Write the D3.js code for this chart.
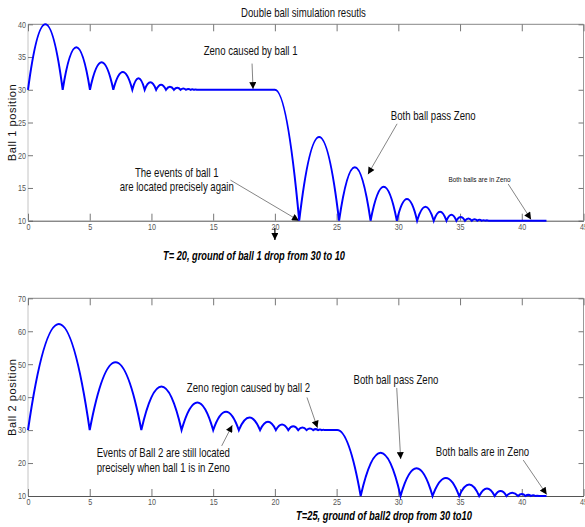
<!DOCTYPE html>
<html>
<head>
<meta charset="utf-8">
<script src="https://cdn.jsdelivr.net/npm/d3@7"></script>
<style>
  body { margin: 0; background: #fff; }
  svg { display: block; }
  text { font-family: "Liberation Sans", Arial, sans-serif; }
  .tick text { font-size: 9px; fill: #555; }
  .note { fill: #111; }
</style>
</head>
<body>
<div id="chart"></div>
<script>
const W = 585, H = 527;
const NARROW = 0.8; // squeeze Arial into an Arial-Narrow look

// ---------------- data
const xTicks = [0, 5, 10, 15, 20, 25, 30, 35, 40, 45];
const y1Ticks = [10, 15, 20, 25, 30, 35, 40];
const y2Ticks = [10, 20, 30, 40, 50, 60, 70];

// ball 1 : ground at 30 until t=20, then ground at 10
const b1Impacts = [0, 2.81, 5.02, 6.91, 8.45, 9.45, 10.38, 11.18, 11.82, 12.36, 12.8, 13.17, 13.45, 13.68];
const b1Apex    = [40, 36.5, 34.2, 32.7, 31.75, 31.14, 30.78, 30.46, 30.3, 30.19, 30.12, 30.07, 30.04];
const b1Drop    = [20, 21.97];           // ground drop start, first hit on new ground
const b1Impacts2 = [21.97, 25.2, 27.75, 29.88, 31.52, 32.87, 33.9, 34.7, 35.4, 35.95, 36.4, 36.75, 37.05, 37.3];
const b1Apex2    = [22.8, 18.15, 15.2, 13.3, 12.14, 11.38, 10.9, 10.57, 10.35, 10.22, 10.14, 10.08, 10.05];

// ball 2 : ground at 30 until t=25, then ground at 10
const b2Impacts = [0, 5.0, 9.18, 12.44, 15.0, 17.08, 18.8, 20.08, 21.08, 21.89, 22.57, 23.1, 23.5, 23.8, 24.05];
const b2Apex    = [62.2, 50.6, 43.2, 38.4, 35.6, 33.8, 32.5, 31.7, 31.2, 30.8, 30.5, 30.3, 30.18, 30.1];
const b2Drop    = [25.05, 26.95];
const b2Impacts2 = [26.95, 30.18, 32.77, 34.93, 36.55, 37.81, 38.76, 39.7, 40.3, 40.75, 41.1, 41.4];
const b2Apex2    = [23.1, 18.4, 15.5, 13.5, 12.3, 11.5, 11.0, 10.6, 10.35, 10.2, 10.1];

const grounds = [30, 10];
const tEnd = 42;

// annotations (text anchor and arrow ends in data units)
const notes1 = [
  {lines: ["Zeno caused by ball 1"], t: 18.03, v: 35.3, from: [18.15, 34.0], to: [18.23, 30.1], size: 12},
  {lines: ["The events of ball 1", "are located precisely again"], t: 12.05, v: 16.7, from: [16.4, 16.2], to: [21.95, 10.0], size: 12},
  {lines: ["Both ball pass Zeno"], t: 32.83, v: 25.4, from: [29.9, 24.8], to: [27.54, 17.1], size: 12},
  {lines: ["Both balls are in Zeno"], t: 36.58, v: 15.9, from: [38.9, 15.6], to: [40.75, 10.2], size: 8}
];
const notes2 = [
  {lines: ["Zeno region caused by ball 2"], t: 17.86, v: 41.6, from: [22.6, 39.9], to: [23.45, 30.7], size: 12},
  {lines: ["Both ball pass Zeno"], t: 29.81, v: 44.0, from: [29.87, 42.8], to: [30.19, 21.2], size: 12},
  {lines: ["Both balls are in Zeno"], t: 36.82, v: 22.1, from: [40.12, 20.9], to: [42.02, 10.45], size: 12},
  {lines: ["Events of Ball 2 are still located", "precisely when ball 1 is in Zeno"], t: 10.96, v: 21.8, from: [15.69, 25.2], to: [16.55, 31.5], size: 12}
];

// ---------------- svg
const svg = d3.select("#chart").append("svg")
  .attr("width", W).attr("height", H);

svg.append("defs").append("marker")
  .attr("id", "ah")
  .attr("viewBox", "0 0 10 10")
  .attr("refX", 10).attr("refY", 5)
  .attr("markerWidth", 8).attr("markerHeight", 7)
  .attr("markerUnits", "userSpaceOnUse")
  .attr("orient", "auto")
  .append("path").attr("d", "M0,0 L10,5 L0,10 Z").attr("fill", "#000");

const x = d3.scaleLinear().domain([0, 45]).range([28, 583.5]);
const y1 = d3.scaleLinear().domain([10, 40]).range([220.7, 24.3]);
const y2 = d3.scaleLinear().domain([10, 70]).range([496, 298.3]);

// narrow text helper
function narrowText(sel, px, py, size, str) {
  return sel.append("text").attr("class", "note")
    .attr("transform", `translate(${px},${py}) scale(${NARROW},1)`)
    .attr("text-anchor", "middle")
    .attr("font-size", size)
    .text(str);
}

// one bouncing trajectory as parabolic arcs
function trajectory(y, imp1, apex1, drop, imp2, apex2) {
  const p = d3.path();
  p.moveTo(x(imp1[0]), y(grounds[0]));
  apex1.forEach((h, i) => {
    const a = imp1[i], b = imp1[i + 1];
    p.quadraticCurveTo(x((a + b) / 2), y(2 * h - grounds[0]), x(b), y(grounds[0]));
  });
  p.lineTo(x(drop[0]), y(grounds[0]));
  p.quadraticCurveTo(x((drop[0] + drop[1]) / 2), y(grounds[0]), x(drop[1]), y(grounds[1]));
  apex2.forEach((h, i) => {
    const a = imp2[i], b = imp2[i + 1];
    p.quadraticCurveTo(x((a + b) / 2), y(2 * h - grounds[1]), x(b), y(grounds[1]));
  });
  p.lineTo(x(tEnd), y(grounds[1]));
  return p.toString();
}

function panel(y, yTicks, label, notes) {
  const g = svg.append("g");
  const [yb, yt] = y.range();

  // frame
  g.append("line").attr("x1", x(0)).attr("x2", x(45)).attr("y1", yt).attr("y2", yt).attr("stroke", "#888");
  g.append("line").attr("x1", x(45)).attr("x2", x(45)).attr("y1", yt).attr("y2", yb).attr("stroke", "#999");
  g.append("line").attr("x1", x(0)).attr("x2", x(0)).attr("y1", yt).attr("y2", yb).attr("stroke", "#c4c4c4");

  g.append("g").attr("transform", `translate(0,${yt})`)
    .call(d3.axisTop(x).tickValues(xTicks).tickSize(-7).tickSizeOuter(0).tickFormat(""))
    .call(a => a.select(".domain").remove())
    .call(a => a.selectAll(".tick line").attr("stroke", "#777"));
  g.append("g").attr("transform", `translate(${x(45)},0)`)
    .call(d3.axisRight(y).tickValues(yTicks).tickSize(-5).tickSizeOuter(0).tickFormat(""))
    .call(a => a.select(".domain").remove())
    .call(a => a.selectAll(".tick line").attr("stroke", "#777"));
  g.append("g").attr("transform", `translate(${x(0)},0)`)
    .call(d3.axisLeft(y).tickValues(yTicks).tickSize(-5).tickSizeOuter(0).tickPadding(3))
    .call(a => a.select(".domain").remove())
    .call(a => a.selectAll(".tick line").attr("stroke", "#777"))
    .call(a => a.selectAll(".tick text").attr("x", null).attr("dy", "0.32em")
      .attr("transform", `translate(-2,0) scale(${NARROW},1)`));
  g.append("g").attr("transform", `translate(0,${yb})`)
    .call(d3.axisBottom(x).tickValues(xTicks).tickSize(-7).tickSizeOuter(0).tickPadding(3))
    .call(a => a.select(".domain").attr("stroke", "#555"))
    .call(a => a.selectAll(".tick line").attr("stroke", "#777"))
    .call(a => a.selectAll(".tick text").attr("transform", `scale(${NARROW},1)`));

  // y label
  g.append("text")
    .attr("transform", `translate(16,${(yt + yb) / 2}) rotate(-90)`)
    .attr("text-anchor", "middle")
    .attr("font-size", 11)
    .attr("letter-spacing", 0.6)
    .attr("fill", "#111")
    .text(label);

  // annotations
  notes.forEach(n => {
    g.append("line")
      .attr("x1", x(n.from[0])).attr("y1", y(n.from[1]))
      .attr("x2", x(n.to[0])).attr("y2", y(n.to[1]))
      .attr("stroke", "#666").attr("stroke-width", 0.8)
      .attr("marker-end", "url(#ah)");
    n.lines.forEach((s, i) => narrowText(g, x(n.t), y(n.v) + i * (n.size + 2.5), n.size, s));
  });
  return g;
}

const g1 = panel(y1, y1Ticks, "Ball 1 position", notes1);
const g2 = panel(y2, y2Ticks, "Ball 2 position", notes2);

g1.append("path")
  .attr("d", trajectory(y1, b1Impacts, b1Apex, b1Drop, b1Impacts2, b1Apex2))
  .attr("fill", "none").attr("stroke", "#0000ff").attr("stroke-width", 2);
g2.append("path")
  .attr("d", trajectory(y2, b2Impacts, b2Apex, b2Drop, b2Impacts2, b2Apex2))
  .attr("fill", "none").attr("stroke", "#0000ff").attr("stroke-width", 2);

// title
narrowText(svg, 303.5, 17, 12, "Double ball simulation resutls");

// x labels (italic serif captions)
svg.append("line")
  .attr("x1", x(20)).attr("x2", x(20)).attr("y1", 228).attr("y2", 240)
  .attr("stroke", "#000").attr("stroke-width", 1.2)
  .attr("marker-end", "url(#ah)");
svg.append("text")
  .attr("x", 254).attr("y", 260)
  .attr("text-anchor", "middle")
  .attr("font-family", "Liberation Serif, Times New Roman, serif")
  .attr("font-style", "italic").attr("font-weight", "bold")
  .attr("font-size", 12)
  .attr("textLength", 182).attr("lengthAdjust", "spacingAndGlyphs")
  .text("T= 20, ground of ball 1 drop from 30 to 10");
svg.append("text")
  .attr("x", 384).attr("y", 520)
  .attr("text-anchor", "middle")
  .attr("font-family", "Liberation Serif, Times New Roman, serif")
  .attr("font-style", "italic").attr("font-weight", "bold")
  .attr("font-size", 12)
  .attr("textLength", 176).attr("lengthAdjust", "spacingAndGlyphs")
  .text("T=25, ground of ball2 drop from 30 to10");
</script>
</body>
</html>
